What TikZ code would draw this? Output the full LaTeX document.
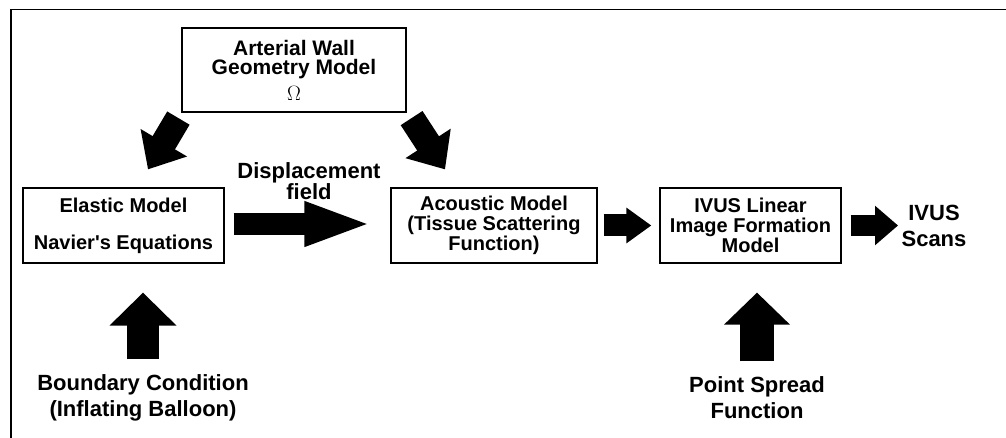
\documentclass[tikz,border=0pt]{standalone}
\usepackage{fontspec}
\setmainfont{Liberation Sans}
\usepackage{tikz}
\usetikzlibrary{positioning,calc,arrows.meta}

\newcommand{\boxfont}{\fontsize{20}{20}\selectfont\bfseries}
\newcommand{\labelfont}{\fontsize{22}{26}\selectfont\bfseries}

\begin{document}
\begin{tikzpicture}[x=1pt,y=-1pt,
    box/.style={draw, line width=1.2pt, align=center, font=\boxfont, inner sep=0pt},
    label/.style={align=center, font=\labelfont},
    blockarrow/.style n args={3}{line width=#1, -{Triangle[width=#2,length=#3]}}]
            \useasboundingbox (0,0) rectangle (1006,438);
            \draw[line width=1.5pt] (11,438) -- (11,9.7) -- (1006,9.7);
            % models
            \node[box, minimum width=224pt, minimum height=84pt, font=\fontsize{21}{19}\selectfont\bfseries] (wall) at (294,70)
                {Arterial Wall\\Geometry Model\\[7pt]$\Omega$};
            \node[box, minimum width=201pt, minimum height=75pt] (elastic) at (123.5,225.5)
                {Elastic Model\\[17pt]Navier\textquotesingle s Equations};
            \node[box, minimum width=206pt, minimum height=75pt] (acoustic) at (494,225.5)
                {Acoustic Model\\(Tissue Scattering\\Function)};
            \node[box, minimum width=181pt, minimum height=75pt] (ivus) at (750.5,225.5)
                {IVUS Linear\\Image Formation\\Model};
            % inputs and outputs
            \node[label, font=\fontsize{22}{21}\selectfont\bfseries] (disp) at (309,181) {Displacement\\field};
            \node[label] (scans) at (934,226) {IVUS\\Scans};
            \node[label] (bc) at (143,398) {Boundary Condition\\(Inflating Balloon)};
            \node[label] (psf) at (757,398) {Point Spread\\Function};
            % arrows
            \draw[blockarrow={26pt}{52pt}{31pt}] ([shift={(-3,5.5)}]wall.south west) -- ([shift={(24.5,-18)}]elastic.north);
            \draw[blockarrow={26pt}{52pt}{31pt}] ([shift={(5,5.5)}]wall.south east) -- ([shift={(-49,-18)}]acoustic.north);
            \draw[blockarrow={22pt}{40pt}{68pt}] ([shift={(9,-1.5)}]elastic.east) -- ([shift={(-18,-1.5)}]acoustic.west);
            \draw[blockarrow={22pt}{34pt}{25pt}] ([shift={(6,0)}]acoustic.east) -- ([shift={(-8,0)}]ivus.west);
            \draw[blockarrow={21pt}{38pt}{23pt}] ([shift={(9,0)}]ivus.east) -- (ivus.east -| scans.west);
            \draw[blockarrow={32pt}{65pt}{33pt}] ([shift={(0,-12)}]bc.north) -- ($(bc.north |- elastic.south)+(0,29)$);
            \draw[blockarrow={34pt}{64pt}{32pt}] ([shift={(0,-12)}]psf.north) -- ($(psf.north |- ivus.south)+(0,29)$);
\end{tikzpicture}
\end{document}
